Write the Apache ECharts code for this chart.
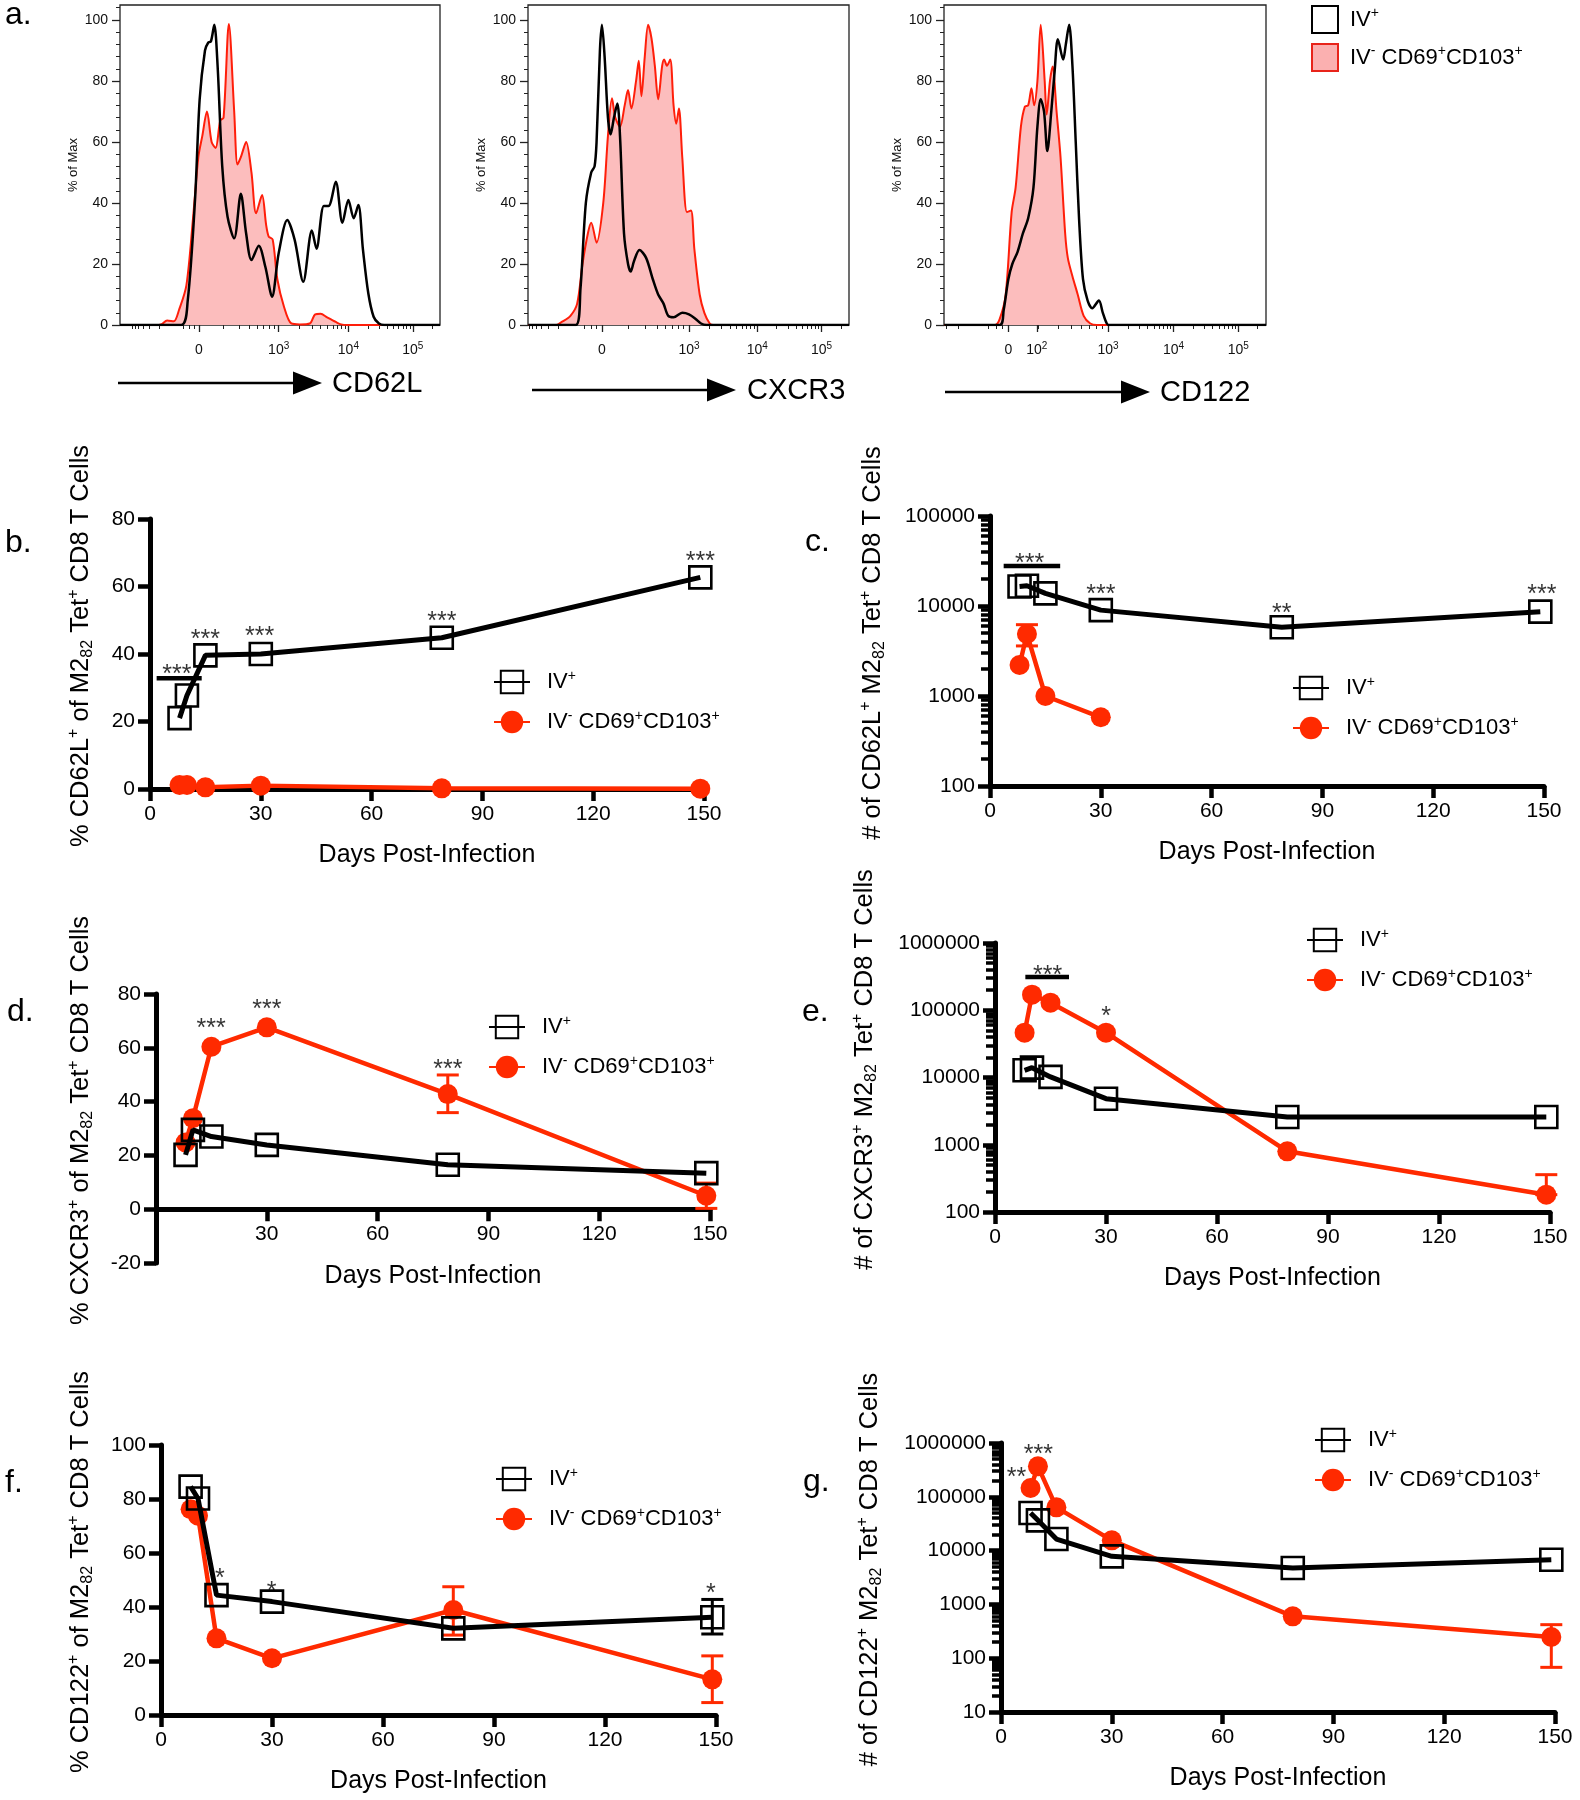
<!DOCTYPE html>
<html>
<head>
<meta charset="utf-8">
<script src="https://cdn.jsdelivr.net/npm/echarts@6.0.0/dist/echarts.min.js"></script>
<style>
html, body { margin:0; padding:0; background:#fff; }
#chart { width:1580px; height:1800px; }
</style>
</head>
<body>
<div id="chart"></div>
<script>
// ================= Panel a : flow histograms =================
// x = position on the biexponential display (decade units), y = % of max
const cd62lIVpos = [[0.62,0],[1.54,0],[1.64,8],[1.75,41],[1.82,74],[1.90,90],[1.95,92.6],[1.99,93],[2.04,98.4],[2.09,85],[2.16,52],[2.24,35.5],[2.34,28.4],[2.44,43],[2.52,30],[2.60,21.3],[2.71,26],[2.81,19],[2.91,9.3],[3.01,23.5],[3.14,34.4],[3.25,28],[3.38,14.2],[3.51,31],[3.58,25],[3.69,39],[3.76,39],[3.87,47],[3.97,33.5],[4.06,41],[4.14,35],[4.21,39.3],[4.28,24.6],[4.36,10.4],[4.44,2.7],[4.52,0.5],[4.6,0],[5.44,0]];
const cd62lIVneg = [[0.62,0],[1.20,0],[1.25,0.3],[1.33,1.5],[1.43,1.2],[1.51,5],[1.62,13],[1.72,35],[1.80,55],[1.86,62],[1.93,70],[2.00,60],[2.06,58],[2.13,67],[2.18,68],[2.26,98.7],[2.34,70],[2.39,52.6],[2.44,55],[2.52,60],[2.60,50],[2.67,36.6],[2.76,42.6],[2.82,33],[2.86,29],[2.92,28],[2.99,15],[3.09,6],[3.20,0.5],[3.33,0.2],[3.48,0.5],[3.56,3.5],[3.64,3.7],[3.74,2.5],[3.87,1],[3.95,0.2],[4.05,0],[5.44,0]];
const cxcr3IVpos = [[0.65,0],[1.36,0],[1.43,12],[1.51,40],[1.59,50],[1.64,52],[1.67,60],[1.72,90],[1.75,98.4],[1.79,88],[1.84,68],[1.88,62.5],[1.93,68],[1.98,72.6],[2.02,62],[2.08,30],[2.14,20],[2.18,17.5],[2.23,21],[2.31,24.6],[2.41,22],[2.51,15],[2.59,10],[2.67,7],[2.74,3],[2.82,2.5],[2.95,4],[3.05,3.5],[3.15,2],[3.23,0.5],[3.31,0],[5.44,0]];
const cxcr3IVneg = [[0.65,0],[1.07,0],[1.15,1],[1.28,3],[1.38,7],[1.46,20],[1.54,30],[1.59,33.5],[1.67,27],[1.77,40],[1.84,62],[1.90,74.3],[1.95,68],[2.02,65],[2.09,72],[2.14,77],[2.19,71],[2.26,80],[2.30,86.6],[2.34,75],[2.39,88],[2.44,98.4],[2.49,94],[2.54,85],[2.59,74],[2.65,85],[2.68,87],[2.72,85],[2.77,87],[2.82,72],[2.86,66],[2.90,71],[2.95,55],[3.02,37],[3.08,37.5],[3.13,25],[3.21,10],[3.28,4],[3.36,0.5],[3.41,0],[5.44,0]];
const cd122IVpos = [[0.57,0],[1.41,0],[1.47,5],[1.54,15],[1.60,20],[1.68,24],[1.76,30],[1.84,35],[1.92,45],[1.98,65],[2.03,74],[2.08,70],[2.13,57],[2.19,70],[2.24,83],[2.29,93.7],[2.37,87],[2.41,92],[2.46,98.4],[2.51,85],[2.56,60],[2.61,35],[2.67,15],[2.74,8],[2.81,5.5],[2.91,8],[2.97,4],[3.03,0.5],[3.07,0],[5.44,0]];
const cd122IVneg = [[0.57,0],[1.34,0],[1.41,2],[1.50,10],[1.59,37],[1.65,45],[1.73,65],[1.79,71.6],[1.84,72],[1.89,77.6],[1.93,72],[1.98,80],[2.03,98.4],[2.09,80],[2.12,69],[2.17,80],[2.21,84.7],[2.27,70],[2.33,55],[2.40,30],[2.44,22],[2.51,16],[2.59,10],[2.68,3],[2.78,0.5],[2.88,0],[5.44,0]];

const cd62lTicks = [1.81, 3.01, 4.06, 5.03];
const cd62lTickText = ['0', '10{s|3}', '10{s|4}', '10{s|5}'];
const cxcr3Ticks = [1.75, 3.05, 4.07, 5.03];
const cxcr3TickText = ['0', '10{s|3}', '10{s|4}', '10{s|5}'];
const cd122Ticks = [1.54, 1.97, 3.05, 4.04, 5.02];
const cd122TickText = ['0', '10{s|2}', '10{s|3}', '10{s|4}', '10{s|5}'];
const pctTicks = [0, 20, 40, 60, 80, 100];

// ================= Panels b-g : time courses =================
const days = [8, 10, 15, 30, 79, 149];

const bIVpos = [21, 27.7, 39.6, 40, 44.8, 62.7];
const bIVneg = [1.2, 1.2, 0.5, 1.0, 0.2, 0.1];
const bBars = [[[1.8, 32.8], [14, 32.8]]];
const bAnnot = [[7.3, 35.8, '***'], [15, 46.2, '***'], [29.7, 47.2, '***'], [79, 51.6, '***'], [149, 69.4, '***']];

const cIVpos = [16500, 16800, 13800, 9000, 5800, 8650];
const cIVneg = [2210, 4890, 1000, 580, null, null];
const cErrNeg = [[10, 3600, 6200]];
const cBars = [[[3.7, 27800], [19, 27800]]];
const cAnnot = [[10.7, 35300, '***'], [30, 15700, '***'], [79, 9840, '**'], [149.4, 15700, '***']];

const dIVpos = [20.2, 29.5, 27, 23.9, 16.5, 13.4];
const dIVneg = [24.8, 33.8, 60.4, 67.6, 42.8, 5.0];
const dErrNeg = [[79, 35.9, 49.9], [149, 0.3, 9.7]];
const dAnnot = [[14.9, 69.7, '***'], [30, 76.7, '***'], [79, 54.2, '***']];

const eIVpos = [12800, 14000, 10200, 4840, 2590, 2590];
const eIVneg = [46400, 170500, 129700, 46400, 798, 181];
const eErrNeg = [[149, 181, 359]];
const eBars = [[[8.2, 312000], [20, 312000]]];
const eAnnot = [[14.2, 415000, '***'], [30, 99800, '*']];

const fIVpos = [84.6, 80.2, 44.4, 42, 32.1, 36.2];
const fIVneg = [76.2, 73.8, 28.4, 21, 38.9, 13.2];
const fErrPos = [[149, 30, 42.8]];
const fErrNeg = [[79, 29.6, 47.5], [149, 4.6, 21.9]];
const fAnnot = [[15.9, 53.1, '*'], [29.9, 48.1, '*'], [148.6, 47.5, '*']];

const gIVpos = [50000, 36500, 16400, 7820, 4750, 6780];
const gIVneg = [146000, 368000, 63700, 15500, 600, 248];
const gErrNeg = [[149, 67.6, 420]];
const gAnnot = [[4.2, 297000, '**'], [10.1, 807000, '***']];

// ================= build =================
const FONT = '"Liberation Sans", Arial, Helvetica, sans-serif';
const RED = '#ff2a00';
const HIST_RED = '#ff1e0a';
const PINK = '#fcbdbd';

const supStyle = fs => ({fontSize: fs, lineHeight: fs, verticalAlign: 'top', fontFamily: FONT, color: '#000'});
const subStyle = fs => ({fontSize: fs, lineHeight: fs, verticalAlign: 'bottom', fontFamily: FONT, color: '#000'});

const option = {
  animation: false,
  backgroundColor: '#ffffff',
  textStyle: {fontFamily: FONT, color: '#000'},
  grid: [], xAxis: [], yAxis: [], series: [], legend: [], graphic: []
};

// ---- histograms
const hists = [
  {grid: {left: 120, top: 5, width: 320, height: 320}, range: [0.62, 5.44], ticks: cd62lTicks, tickText: cd62lTickText, dec: [3.01, 4.06, 5.03], pos: cd62lIVpos, neg: cd62lIVneg},
  {grid: {left: 528, top: 5, width: 321, height: 320}, range: [0.646, 5.44], ticks: cxcr3Ticks, tickText: cxcr3TickText, dec: [3.05, 4.07, 5.03], pos: cxcr3IVpos, neg: cxcr3IVneg},
  {grid: {left: 944, top: 5, width: 322, height: 320}, range: [0.566, 5.44], ticks: cd122Ticks, tickText: cd122TickText, dec: [3.05, 4.04, 5.02], pos: cd122IVpos, neg: cd122IVneg}
];

function histMinorTicks(h) {
  const out = [];
  const d = h.dec;
  for (let i = 0; i < d.length; i++) {
    const step = i < d.length - 1 ? d[i + 1] - d[i] : d[i] - d[i - 1];
    for (let k = 2; k <= 9; k++) { const v = d[i] + step * Math.log10(k); if (v < h.range[1]) out.push(v); }
  }
  const p0 = h.ticks[0], p3 = d[0];
  [0.3, 0.5, 0.63, 0.73, 0.81, 0.88, 0.94].forEach(f => out.push(p0 + (p3 - p0) * f));
  [0.06, 0.12, 0.2, 0.5, 0.62, 0.7, 0.76, 0.8, 0.84].forEach(f => { const v = p0 - (p3 - p0) * f; if (v > h.range[0]) out.push(v); });
  return out;
}

hists.forEach(h => {
  const gi = option.grid.length;
  option.grid.push(Object.assign({show: true, borderColor: '#222', borderWidth: 1.3, backgroundColor: 'transparent', containLabel: false, outerBoundsMode: 'none'}, h.grid));
  const xi = option.xAxis.length;
  option.xAxis.push({
    type: 'value', gridIndex: gi, position: 'bottom', min: h.range[0], max: h.range[1],
    axisLine: {show: false}, splitLine: {show: false},
    axisTick: {show: true, customValues: h.ticks, length: 7, lineStyle: {color: '#222', width: 1.3}},
    axisLabel: {
      show: true, customValues: h.ticks, fontSize: 14, color: '#111', margin: 16, lineHeight: 18,
      formatter: v => { let best = 0; h.ticks.forEach((t, i) => { if (Math.abs(t - v) < Math.abs(h.ticks[best] - v)) best = i; }); return h.tickText[best]; },
      rich: {s: {fontSize: 10, lineHeight: 10, verticalAlign: 'top', fontFamily: FONT, color: '#111'}}
    }
  });
  option.xAxis.push({
    type: 'value', gridIndex: gi, position: 'bottom', min: h.range[0], max: h.range[1],
    axisLine: {show: false}, splitLine: {show: false}, axisLabel: {show: false},
    axisTick: {show: true, customValues: histMinorTicks(h), length: 4, lineStyle: {color: '#222', width: 1}}
  });
  const yi = option.yAxis.length;
  option.yAxis.push({
    type: 'value', gridIndex: gi, position: 'left', min: 0, max: 104.9,
    axisLine: {show: false}, splitLine: {show: false},
    axisTick: {show: true, customValues: pctTicks, length: 8, lineStyle: {color: '#222', width: 1.3}},
    minorTick: {show: true, splitNumber: 5, length: 4, lineStyle: {color: '#222', width: 1}},
    axisLabel: {customValues: pctTicks, fontSize: 14, color: '#111', margin: 12},
    name: '% of Max', nameLocation: 'middle', nameRotate: 90, nameGap: 40,
    nameTextStyle: {fontSize: 13, color: '#111'}
  });
  option.series.push({
    type: 'line', name: 'hIV-', xAxisIndex: xi, yAxisIndex: yi, data: h.neg, smooth: 0.3, symbol: 'none', silent: true,
    lineStyle: {color: HIST_RED, width: 2}, itemStyle: {color: HIST_RED}, areaStyle: {color: PINK, opacity: 1}, z: 2
  });
  option.series.push({
    type: 'line', name: 'hIV+', xAxisIndex: xi, yAxisIndex: yi, data: h.pos, smooth: 0.3, symbol: 'none', silent: true,
    lineStyle: {color: '#000', width: 2.5}, itemStyle: {color: '#000'}, z: 3
  });
});

option.legend.push({
  orient: 'vertical', left: 1311, top: 5, padding: 0, itemWidth: 26, itemHeight: 27, itemGap: 9, icon: 'rect', selectedMode: false,
  data: [
    {name: 'hIV+', itemStyle: {color: '#ffffff', borderColor: '#000', borderWidth: 2}},
    {name: 'hIV-', itemStyle: {color: '#fbb0b0', borderColor: '#e8241a', borderWidth: 2}}
  ],
  formatter: n => n === 'hIV+' ? 'IV{sup|+}' : 'IV{sup|-} CD69{sup|+}CD103{sup|+}',
  textStyle: {fontSize: 22, color: '#000', lineHeight: 26, padding: [0, 0, 0, 7], rich: {sup: supStyle(14)}}
});

// ---- time-course panels
const panels = [
  {grid: {left: 150, top: 519, width: 554, height: 270}, log: false, yMin: 0, yMax: 80, title: '% CD62L{sup|+} of M2{sub|82} Tet{sup|+} CD8 T Cells', yGap: 54, pos: bIVpos, neg: bIVneg, errPos: [], errNeg: [], bars: bBars, annot: bAnnot, legend: [493, 669], hideX0: false},
  {grid: {left: 990, top: 516, width: 554, height: 270}, log: true, yMin: 100, yMax: 100000, title: '# of CD62L{sup|+} M2{sub|82} Tet{sup|+} CD8 T Cells', yGap: 102, pos: cIVpos, neg: cIVneg, errPos: [], errNeg: cErrNeg, bars: cBars, annot: cAnnot, legend: [1292, 675], hideX0: false},
  {grid: {left: 156, top: 994, width: 554, height: 269}, log: false, yMin: -20, yMax: 80, title: '% CXCR3{sup|+} of M2{sub|82} Tet{sup|+} CD8 T Cells', yGap: 60, pos: dIVpos, neg: dIVneg, errPos: [], errNeg: dErrNeg, bars: [], annot: dAnnot, legend: [488, 1014], hideX0: true},
  {grid: {left: 995, top: 943, width: 555, height: 269}, log: true, yMin: 100, yMax: 1000000, title: '# of CXCR3{sup|+} M2{sub|82} Tet{sup|+} CD8 T Cells', yGap: 115, pos: eIVpos, neg: eIVneg, errPos: [], errNeg: eErrNeg, bars: eBars, annot: eAnnot, legend: [1306, 927], hideX0: false},
  {grid: {left: 161, top: 1445, width: 555, height: 270}, log: false, yMin: 0, yMax: 100, title: '% CD122{sup|+} of M2{sub|82} Tet{sup|+} CD8 T Cells', yGap: 65, pos: fIVpos, neg: fIVneg, errPos: fErrPos, errNeg: fErrNeg, bars: [], annot: fAnnot, legend: [495, 1466], hideX0: false},
  {grid: {left: 1001, top: 1443, width: 554, height: 269}, log: true, yMin: 10, yMax: 1000000, title: '# of CD122{sup|+} M2{sub|82} Tet{sup|+} CD8 T Cells', yGap: 116, pos: gIVpos, neg: gIVneg, errPos: [], errNeg: gErrNeg, bars: [], annot: gAnnot, legend: [1314, 1427], hideX0: false}
];

const toXY = vals => days.map((d, i) => [d, vals[i]]).filter(p => p[1] != null);

function errSeries(xi, yi, data, color) {
  return {
    type: 'custom', name: 'err', xAxisIndex: xi, yAxisIndex: yi, data: data, silent: true, z: 2, clip: false,
    encode: {x: 0, y: [1, 2]},
    renderItem: (params, api) => {
      const x = api.value(0), lo = api.value(1), hi = api.value(2);
      const p1 = api.coord([x, hi]), p2 = api.coord([x, lo]);
      const w = 11, st = {stroke: color, lineWidth: 3};
      return {type: 'group', children: [
        {type: 'line', shape: {x1: p1[0], y1: p1[1], x2: p2[0], y2: p2[1]}, style: st},
        {type: 'line', shape: {x1: p1[0] - w, y1: p1[1], x2: p1[0] + w, y2: p1[1]}, style: st},
        {type: 'line', shape: {x1: p2[0] - w, y1: p2[1], x2: p2[0] + w, y2: p2[1]}, style: st}
      ]};
    }
  };
}

const axisTitleStyle = {fontSize: 25.5, lineHeight: 30, color: '#000', fontFamily: FONT, padding: [0, 0, 0, 16], rich: {sup: supStyle(16), sub: subStyle(16)}};

panels.forEach(p => {
  const gi = option.grid.length;
  option.grid.push(Object.assign({show: false, containLabel: false, outerBoundsMode: 'none'}, p.grid));
  const xi = option.xAxis.length;
  // x axis crosses the y axis at 0: shift it up from the grid bottom when the y range goes below zero
  const zeroShift = (!p.log && p.yMin < 0) ? -p.grid.height * (0 - p.yMin) / (p.yMax - p.yMin) : 0;
  option.xAxis.push({
    type: 'value', gridIndex: gi, position: 'bottom', min: 0, max: 150, interval: 30, offset: zeroShift,
    axisLine: {show: true, onZero: false, lineStyle: {color: '#000', width: 5}},
    axisTick: {show: true, length: 12, lineStyle: {color: '#000', width: 4.5}},
    axisLabel: {fontSize: 21, color: '#000', margin: 15, formatter: v => (p.hideX0 && v === 0) ? '' : String(v)},
    splitLine: {show: false},
    name: 'Days Post-Infection', nameLocation: 'middle', nameGap: 54, nameTextStyle: {fontSize: 25, color: '#000'}
  });
  const yi = option.yAxis.length;
  const yBase = {
    gridIndex: gi, position: 'left', min: p.yMin, max: p.yMax,
    axisLine: {show: true, onZero: false, lineStyle: {color: '#000', width: 5}},
    axisTick: {show: true, length: 12, lineStyle: {color: '#000', width: 4.5}},
    axisLabel: {fontSize: 21, color: '#000', margin: 15},
    splitLine: {show: false},
    name: p.title, nameLocation: 'middle', nameRotate: 90, nameGap: p.yGap, nameTextStyle: axisTitleStyle
  };
  if (p.log) {
    yBase.type = 'log'; yBase.logBase = 10;
    yBase.axisLabel.formatter = v => String(Math.round(v));
  } else {
    yBase.type = 'value'; yBase.interval = 20;
  }
  option.yAxis.push(yBase);
  if (p.log) {
    const minor = [];
    for (let d = p.yMin; d < p.yMax; d *= 10) for (let k = 2; k <= 9; k++) minor.push(d * k);
    option.yAxis.push({
      type: 'log', logBase: 10, gridIndex: gi, position: 'left', min: p.yMin, max: p.yMax,
      axisLine: {show: false}, axisLabel: {show: false}, splitLine: {show: false},
      axisTick: {show: true, customValues: minor, length: 9, lineStyle: {color: '#000', width: 3.5}}
    });
  }
  if (p.errNeg.length) option.series.push(errSeries(xi, yi, p.errNeg, RED));
  if (p.errPos.length) option.series.push(errSeries(xi, yi, p.errPos, '#000'));
  option.series.push({
    type: 'line', name: 'IV-', xAxisIndex: xi, yAxisIndex: yi, data: toXY(p.neg), clip: false, silent: true,
    symbol: 'circle', symbolSize: 20, itemStyle: {color: RED}, lineStyle: {color: RED, width: 4.5}, z: 3,
    emphasis: {disabled: true}
  });
  option.series.push({
    type: 'line', name: 'IV+', xAxisIndex: xi, yAxisIndex: yi, data: toXY(p.pos), clip: false, silent: true,
    symbol: 'rect', symbolSize: 22, itemStyle: {color: 'rgba(255,255,255,0)', borderColor: '#000', borderWidth: 2.6},
    lineStyle: {color: '#000', width: 5}, z: 4, emphasis: {disabled: true}
  });
  p.bars.forEach(b => option.series.push({
    type: 'line', name: 'sig', xAxisIndex: xi, yAxisIndex: yi, data: b, symbol: 'none', silent: true,
    lineStyle: {color: '#000', width: 4.5}, z: 5
  }));
  option.series.push({
    type: 'scatter', name: 'stars', xAxisIndex: xi, yAxisIndex: yi, silent: true, z: 6,
    data: p.annot.map(a => ({value: [a[0], a[1]], name: a[2]})),
    symbol: 'circle', symbolSize: 1, itemStyle: {color: 'rgba(0,0,0,0)'},
    label: {show: true, position: 'inside', formatter: '{b}', fontSize: 25, color: '#000', offset: [0, 7]}
  });
  option.legend.push({
    orient: 'vertical', left: p.legend[0], top: p.legend[1], padding: 0, itemWidth: 36, itemHeight: 28, itemGap: 14, selectedMode: false,
    data: ['IV+', 'IV-'],
    formatter: n => n === 'IV+' ? 'IV{sup|+}' : 'IV{sup|-} CD69{sup|+}CD103{sup|+}',
    textStyle: {fontSize: 22, color: '#000', lineHeight: 26, padding: [0, 0, 0, 12], rich: {sup: supStyle(14)}}
  });
});

// ---- panel letters, marker arrows
const letters = [['a.', 5, 15], ['b.', 5, 543], ['c.', 805, 542], ['d.', 7, 1012], ['e.', 802, 1012], ['f.', 5, 1483], ['g.', 803, 1482]];
letters.forEach(l => option.graphic.push({type: 'text', x: l[1], y: l[2], silent: true,
  style: {text: l[0], font: '32px ' + FONT, fill: '#000', align: 'left', verticalAlign: 'middle'}}));

const markers = [
  {text: 'CD62L', x1: 118, x2: 294, y: 383, tx: 332},
  {text: 'CXCR3', x1: 532, x2: 708, y: 390, tx: 747},
  {text: 'CD122', x1: 945, x2: 1122, y: 392, tx: 1160}
];
markers.forEach(m => {
  option.graphic.push({type: 'line', silent: true, shape: {x1: m.x1, y1: m.y, x2: m.x2, y2: m.y}, style: {stroke: '#000', lineWidth: 2.5}});
  option.graphic.push({type: 'polygon', silent: true, shape: {points: [[m.x2 - 1, m.y - 11.5], [m.x2 - 1, m.y + 11.5], [m.x2 + 28, m.y]]}, style: {fill: '#000'}});
  option.graphic.push({type: 'text', silent: true, x: m.tx, y: m.y + 1, style: {text: m.text, font: '29px ' + FONT, fill: '#000', align: 'left', verticalAlign: 'middle'}});
});

const chart = echarts.init(document.getElementById('chart'), null, {renderer: 'canvas', width: 1580, height: 1800});
chart.setOption(option);
</script>
</body>
</html>
